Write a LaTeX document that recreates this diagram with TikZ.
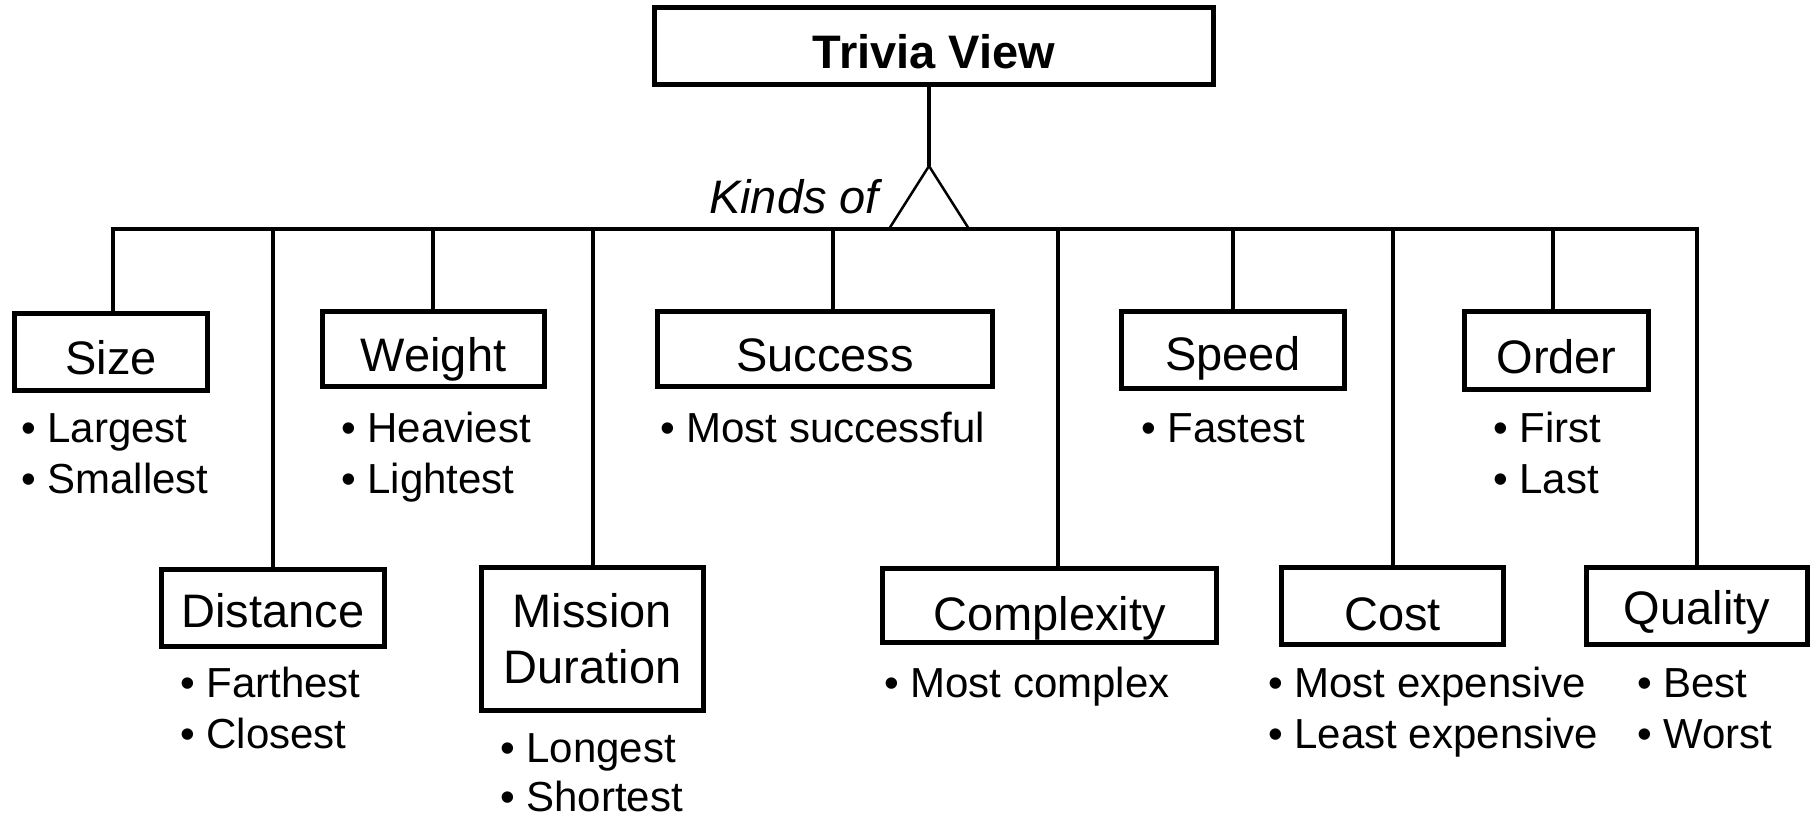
\documentclass[tikz,border=0pt]{standalone}
\usepackage{fontspec}
\setmainfont{Liberation Sans}
\begin{document}
\begin{tikzpicture}[x=1pt,y=-1pt,
  boxbase/.style={draw, line width=5pt, inner sep=0pt, align=center,
    font=\fontsize{47}{56}\selectfont},
  box/.style={boxbase, text height=45pt, text depth=0pt},
  item/.style={anchor=base west, inner sep=0pt, text depth=0pt,
    font=\fontsize{42}{51}\selectfont},
  link/.style={line width=3.5pt},
  thin/.style={line width=2.5pt, line join=miter},
]
\useasboundingbox (0,0) rectangle (1816,816);

% root
\node[box, font=\fontsize{47}{56}\selectfont\bfseries,
  minimum width=559pt, minimum height=77pt] (root) at (934,46) {Trivia View};

% first row of categories
\node[box, minimum width=193pt, minimum height=77pt] (size)    at (111,352)    {Size};
\node[box, minimum width=222pt, minimum height=75pt] (weight)  at (433.5,349)  {Weight};
\node[box, minimum width=335pt, minimum height=75pt] (success) at (825,349)    {Success};
\node[box, minimum width=223pt, minimum height=77pt, text height=40pt] (speed) at (1233,350) {Speed};
\node[box, minimum width=184pt, minimum height=78pt] (order)   at (1556.5,350.5) {Order};

% second row of categories
\node[box, minimum width=223pt, minimum height=77pt, text height=38pt] (distance) at (273,608) {Distance};
\node[boxbase, minimum width=222pt, minimum height=143pt] (mission) at (592.5,639) {Mission\\Duration};
\node[box, minimum width=334pt, minimum height=74pt, text height=49pt] (complexity) at (1049.5,605.5) {Complexity};
\node[box, minimum width=222pt, minimum height=77pt, text height=49pt] (cost) at (1392.5,606) {Cost};
\node[box, minimum width=221pt, minimum height=77pt, text height=37pt] (quality) at (1697,606) {Quality};

% generalisation triangle and its label
\coordinate (apex) at (929,166);
\coordinate (triL) at (889,229);
\coordinate (triR) at (969,229);
\draw[link] (root.south -| apex) -- (apex);
\draw[thin] (triL) -- (apex) -- (triR);
\node[anchor=base west, inner sep=0pt, font=\fontsize{47}{56}\selectfont\itshape]
  (kinds) at (709,213) {Kinds of};

% junctions on the bar
\coordinate (jSize)       at (113,229);
\coordinate (jDistance)   at (273,229);
\coordinate (jWeight)     at (433,229);
\coordinate (jMission)    at (593,229);
\coordinate (jSuccess)    at (833,229);
\coordinate (jComplexity) at (1058,229);
\coordinate (jSpeed)      at (1233,229);
\coordinate (jCost)       at (1393,229);
\coordinate (jOrder)      at (1553,229);
\coordinate (jQuality)    at (1697,229);

% bar with its two end drops
\draw[link] (jSize |- size.north) -- (jSize) -- (jQuality) -- (jQuality |- quality.north);
% inner drops
\draw[link] (jDistance)   -- (jDistance |- distance.north);
\draw[link] (jWeight)     -- (jWeight |- weight.north);
\draw[link] (jMission)    -- (jMission |- mission.north);
\draw[link] (jSuccess)    -- (jSuccess |- success.north);
\draw[link] (jComplexity) -- (jComplexity |- complexity.north);
\draw[link] (jSpeed)      -- (jSpeed |- speed.north);
\draw[link] (jCost)       -- (jCost |- cost.north);
\draw[link] (jOrder)      -- (jOrder |- order.north);

% superlatives under each category
\node[item] (size1) at (21,442) {• Largest};
\node[item] (size2) at (21,493) {• Smallest};
\node[item] (weight1) at (341,442) {• Heaviest};
\node[item] (weight2) at (341,493) {• Lightest};
\node[item] (success1) at (660,442) {• Most successful};
\node[item] (speed1) at (1141,442) {• Fastest};
\node[item] (order1) at (1493,442) {• First};
\node[item] (order2) at (1493,493) {• Last};

\node[item] (distance1) at (180,697) {• Farthest};
\node[item] (distance2) at (180,748) {• Closest};
\node[item] (mission1) at (500,762) {• Longest};
\node[item] (mission2) at (500,811) {• Shortest};
\node[item] (complexity1) at (884,697) {• Most complex};
\node[item] (cost1) at (1268,697) {• Most expensive};
\node[item] (cost2) at (1268,748) {• Least expensive};
\node[item] (quality1) at (1637,697) {• Best};
\node[item] (quality2) at (1637,748) {• Worst};
\end{tikzpicture}
\end{document}
